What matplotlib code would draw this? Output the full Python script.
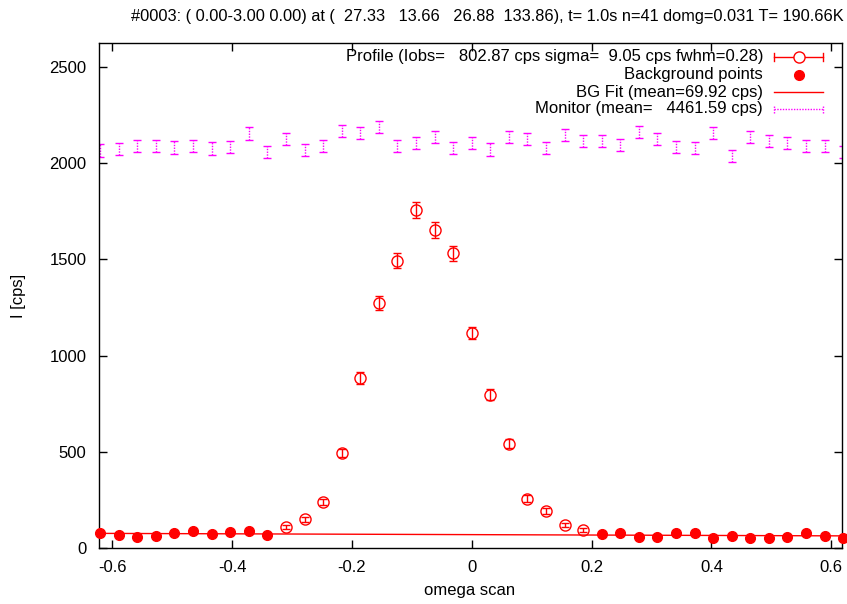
import matplotlib
matplotlib.use('Agg')
import matplotlib.pyplot as plt
from matplotlib.lines import Line2D
import numpy as np

plt.rcParams['font.family'] = ['Liberation Sans', 'DejaVu Sans']

# scan positions (41 points, domg=0.031)
omega = [-0.62, -0.589, -0.558, -0.527, -0.496, -0.465, -0.434, -0.403, -0.372, -0.341,
         -0.31, -0.279, -0.248, -0.217, -0.186, -0.155, -0.124, -0.093, -0.062, -0.031,
         0.0, 0.031, 0.062, 0.093, 0.124, 0.155, 0.186,
         0.217, 0.248, 0.279, 0.31, 0.341, 0.372, 0.403, 0.434, 0.465, 0.496, 0.527,
         0.558, 0.589, 0.62]

# profile points (index 10..26)
prof_idx = list(range(10, 27))
prof_I = [111, 149, 238, 495, 884, 1272, 1492, 1756, 1653, 1532, 1118, 797, 542, 257, 192, 120, 94]
prof_err = [11, 12, 15, 22, 30, 36, 39, 42, 41, 39, 33, 28, 23, 16, 14, 11, 10]

# background points
bg_idx = list(range(0, 10)) + list(range(27, 41))
bg_I = [76, 68, 59, 64, 80, 88, 71, 83, 88, 68,
        71, 80, 56, 59, 80, 80, 54, 61, 50, 54, 59, 80, 64, 54]

# linear background fit (end points)
bg_fit_x = [-0.62, 0.62]
bg_fit_y = [76, 63]

# monitor (scaled)
mon_I = [2067, 2075, 2091, 2088, 2081, 2088, 2077, 2086, 2155, 2057,
         2127, 2068, 2089, 2167, 2158, 2187, 2091, 2106, 2136, 2079,
         2106, 2071, 2136, 2127, 2079, 2147, 2115, 2115, 2096, 2162,
         2127, 2085, 2079, 2157, 2039, 2136, 2115, 2106, 2089, 2091, 2060]
mon_err = 32

title = "#0003: ( 0.00-3.00 0.00) at (  27.33   13.66   26.88  133.86), t= 1.0s n=41 domg=0.031 T= 190.66K"
leg_labels = ["Profile (Iobs=   802.87 cps sigma=  9.05 cps fwhm=0.28)",
              "Background points",
              "BG Fit (mean=69.92 cps)",
              "Monitor (mean=   4461.59 cps)"]

RED = '#ff0000'
MAG = '#ff00ff'
FS = 12

fig = plt.figure(figsize=(8.47, 6.04), dpi=100)
ax = fig.add_axes([99/847, 1-548/604, 743/847, 505/604])

x = np.array(omega)

# monitor
eb = ax.errorbar(x, mon_I, yerr=mon_err, fmt='none', ecolor=MAG, elinewidth=1,
                 capsize=2.8, capthick=1, zorder=2)
for lc in eb[2]:
    lc.set_linestyle((0, (1, 1)))

# background fit
ax.plot(bg_fit_x, bg_fit_y, color=RED, lw=1, zorder=3)

# background points
ax.plot(x[bg_idx], bg_I, 'o', color=RED, ms=7, zorder=4, clip_on=False)

# profile
ax.errorbar(x[prof_idx], prof_I, yerr=prof_err, fmt='o', mfc='none', mec=RED, ms=8,
            mew=1, ecolor=RED, elinewidth=1, capsize=3, capthick=1, zorder=5)

ax.set_xlim(-0.622, 0.618)
ax.set_ylim(0, 2625)
ax.set_xticks([-0.6, -0.4, -0.2, 0, 0.2, 0.4, 0.6])
ax.set_xticklabels(['-0.6', '-0.4', '-0.2', '0', '0.2', '0.4', '0.6'])
ax.set_yticks([0, 500, 1000, 1500, 2000, 2500])
ax.tick_params(direction='in', length=6, width=1, top=True, right=True,
               labelsize=FS, pad=9)
for s in ax.spines.values():
    s.set_linewidth(1)

fig.text(487/847, 1-16/604, title, ha='center', va='center', fontsize=11.8)
fig.text(470/847, 1-590/604, 'omega scan', ha='center', va='center', fontsize=FS)
fig.text(18/847, 1-296/604, 'I [cps]', ha='center', va='center', rotation=90, fontsize=FS)

# gnuplot style key, text right-aligned with samples on the right
tx = 763/847
sx0, sx1 = 774/847, 823/847
sxm = (sx0 + sx1) / 2
rows = [57, 75, 92, 109]
for lab, ry in zip(leg_labels, rows):
    fig.text(tx, 1-ry/604, lab, ha='right', va='center', fontsize=FS)
yy = [1-r/604 for r in rows]
cap = 4/604
# profile sample
fig.add_artist(Line2D([sx0, sx1], [yy[0], yy[0]], color=RED, lw=1))
fig.add_artist(Line2D([sx0, sx0], [yy[0]-cap, yy[0]+cap], color=RED, lw=1))
fig.add_artist(Line2D([sx1, sx1], [yy[0]-cap, yy[0]+cap], color=RED, lw=1))
fig.add_artist(Line2D([sxm], [yy[0]], marker='o', mfc='white', mec=RED, ms=8, mew=1))
# background points sample
fig.add_artist(Line2D([sxm], [yy[1]], marker='o', color=RED, ms=7, ls='none'))
# bg fit sample
fig.add_artist(Line2D([sx0, sx1], [yy[2], yy[2]], color=RED, lw=1))
# monitor sample
fig.add_artist(Line2D([sx0, sx1], [yy[3], yy[3]], color=MAG, lw=1, ls=(0, (1, 1))))
fig.add_artist(Line2D([sx0, sx0], [yy[3]-cap, yy[3]+cap], color=MAG, lw=1, ls=(0, (1, 1))))
fig.add_artist(Line2D([sx1, sx1], [yy[3]-cap, yy[3]+cap], color=MAG, lw=1, ls=(0, (1, 1))))

fig.savefig('out.png', dpi=100)
